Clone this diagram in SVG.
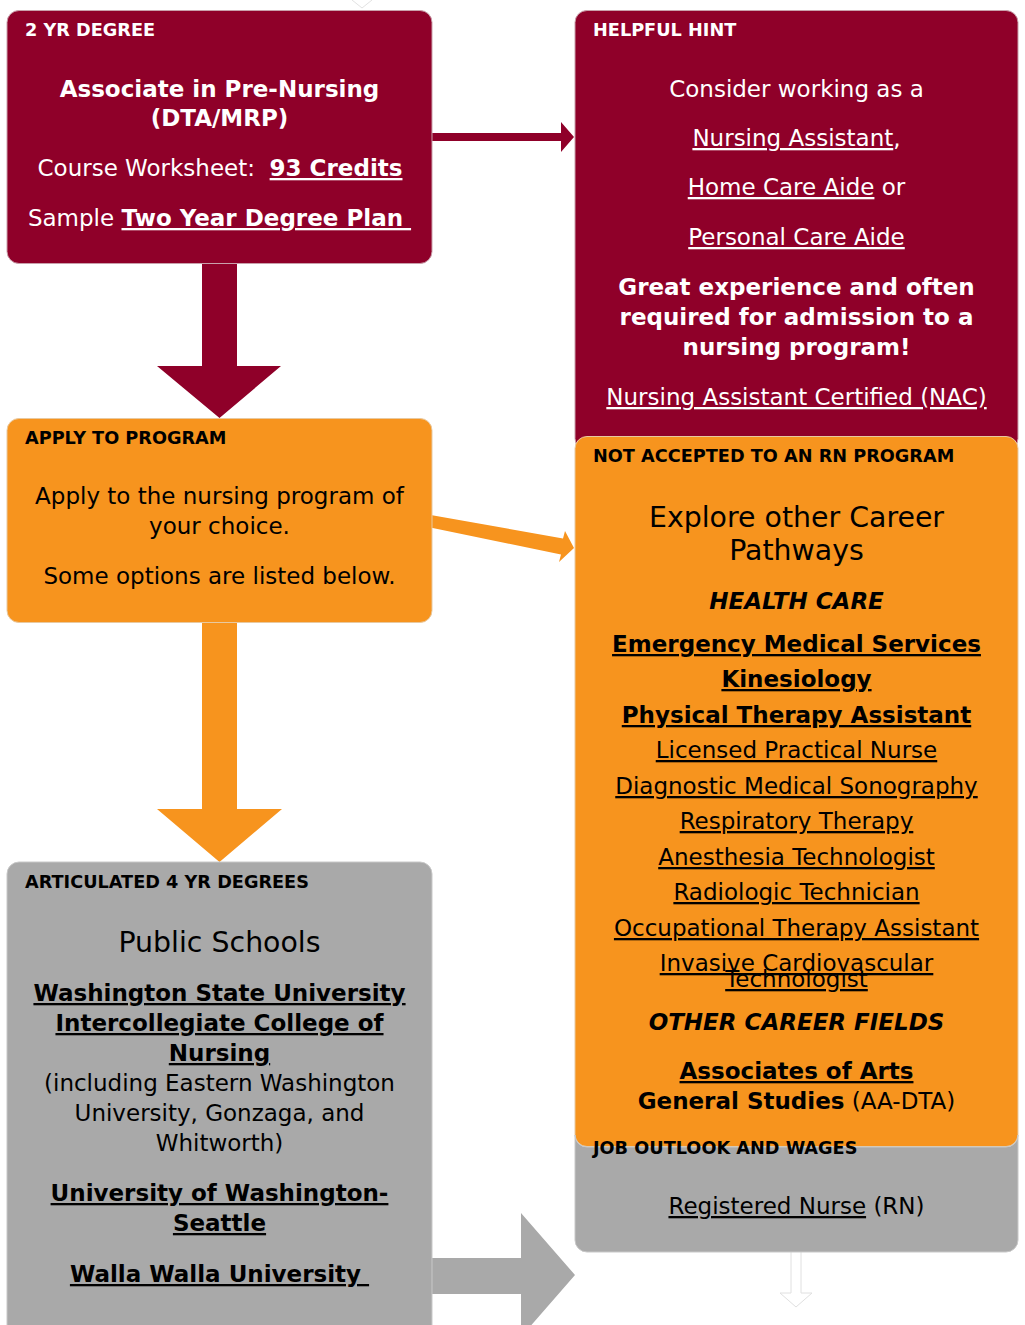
<svg xmlns="http://www.w3.org/2000/svg" width="1025" height="1325" viewBox="0 0 1025 1325">
<style>
text{font-family:"DejaVu Sans","Noto Sans",sans-serif;font-size:23px}
.hd{font-size:17.7px;font-weight:bold}
.c{text-anchor:middle}
.bd{font-weight:bold}
.bi{font-weight:bold;font-style:italic}
.u{text-decoration:underline}
.w{fill:#fff}
.k{fill:#000}
.big{font-size:28.4px}
.maroon{fill:#8f0029;stroke:#c9a0ab;stroke-width:1}
.orange{fill:#f7941e;stroke:#e8c9a0;stroke-width:1}
.gray{fill:#a9a9a9;stroke:#c8c8c8;stroke-width:1}
</style>
<rect width="1025" height="1325" fill="#fff"/>
<g id="connectors">
  <path d="M352,0 L362,8 L372,0" fill="none" stroke="#e2e2e2" stroke-width="1"/>
  <path d="M202,250 H237 V366 H281 L219.5,418 L157,366 H202 Z" fill="#8f0029"/>
  <path d="M425,133 H561 V122 L574,137 L561,152 V141 H425 Z" fill="#8f0029"/>
  <path d="M425,514 L563,538.5 L565,531 L574,548 L559,562 L561,554.5 L423,526 Z" fill="#f7941e"/>
  <path d="M202,610 H237 V809 H282 L219.5,862 L157,809 H202 Z" fill="#f7941e"/>
  <path d="M425,1258 H521 V1213 L575,1275 L521,1337 V1294 H425 Z" fill="#a9a9a9"/>
  <path d="M791,1252 V1293 H780 L796,1307 L812,1293 H801 V1252" fill="#fff" stroke="#e0e0e0" stroke-width="1"/>
</g>
<g id="node-2yr">
  <rect class="maroon" x="7" y="10.5" width="425" height="253" rx="12"/>
  <text class="hd w" x="25" y="36">2 YR DEGREE</text>
  <text class="c w bd" x="219.5" y="97">Associate in Pre-Nursing</text>
  <text class="c w bd" x="219.5" y="126">(DTA/MRP)</text>
  <text class="c w" x="220" y="176" xml:space="preserve">Course Worksheet:  <tspan class="bd u">93 Credits</tspan></text>
  <text class="c w" x="219.5" y="226" xml:space="preserve">Sample <tspan class="bd u">Two Year Degree Plan </tspan></text>
</g>
<g id="node-hint">
  <rect class="maroon" x="575" y="10.5" width="443" height="440" rx="12"/>
  <text class="hd w" x="593" y="36">HELPFUL HINT</text>
  <text class="c w" x="796.5" y="97">Consider working as a</text>
  <text class="c w" x="796.5" y="146"><tspan class="u">Nursing Assistant</tspan>,</text>
  <text class="c w" x="796.5" y="195"><tspan class="u">Home Care Aide</tspan> or</text>
  <text class="c w u" x="796.5" y="245">Personal Care Aide</text>
  <text class="c w bd" x="796.5" y="295">Great experience and often</text>
  <text class="c w bd" x="796.5" y="325">required for admission to a</text>
  <text class="c w bd" x="796.5" y="355">nursing program!</text>
  <text class="c w u" x="796.5" y="405">Nursing Assistant Certified (NAC)</text>
</g>
<g id="node-apply">
  <rect class="orange" x="7" y="418.5" width="425" height="204" rx="12"/>
  <text class="hd k" x="25" y="444">APPLY TO PROGRAM</text>
  <text class="c k" x="219.5" y="504">Apply to the nursing program of</text>
  <text class="c k" x="219.5" y="534">your choice.</text>
  <text class="c k" x="219.5" y="584">Some options are listed below.</text>
</g>
<g id="node-not-accepted">
  <rect class="orange" x="575" y="436.5" width="443" height="710" rx="12"/>
  <text class="hd k" x="593" y="462">NOT ACCEPTED TO AN RN PROGRAM</text>
  <text class="c k big" x="796.5" y="527">Explore other Career</text>
  <text class="c k big" x="796.5" y="560">Pathways</text>
  <text class="c k bi" x="796.5" y="609">HEALTH CARE</text>
  <text class="c k bd u" x="796.5" y="652">Emergency Medical Services</text>
  <text class="c k bd u" x="796.5" y="687">Kinesiology</text>
  <text class="c k bd u" x="796.5" y="723">Physical Therapy Assistant</text>
  <text class="c k u" x="796.5" y="758">Licensed Practical Nurse</text>
  <text class="c k u" x="796.5" y="794">Diagnostic Medical Sonography</text>
  <text class="c k u" x="796.5" y="829">Respiratory Therapy</text>
  <text class="c k u" x="796.5" y="865">Anesthesia Technologist</text>
  <text class="c k u" x="796.5" y="900">Radiologic Technician</text>
  <text class="c k u" x="796.5" y="936">Occupational Therapy Assistant</text>
  <text class="c k u" x="796.5" y="971">Invasive Cardiovascular</text>
  <text class="c k u" x="796.5" y="987">Technologist</text>
  <text class="c k bi" x="796.5" y="1030">OTHER CAREER FIELDS</text>
  <text class="c k bd u" x="796.5" y="1079">Associates of Arts</text>
  <text class="c k" x="796.5" y="1109"><tspan class="bd">General Studies</tspan> (AA-DTA)</text>
</g>
<g id="node-job-outlook">
  <path class="gray" d="M575,1135 A12,12 0 0 0 587,1147 H1006 A12,12 0 0 0 1018,1135 V1240 A12,12 0 0 1 1006,1252 H587 A12,12 0 0 1 575,1240 Z"/>
  <text class="hd k" x="593" y="1154">JOB OUTLOOK AND WAGES</text>
  <text class="c k" x="796.5" y="1214"><tspan class="u">Registered Nurse</tspan> (RN)</text>
</g>
<g id="node-4yr">
  <rect class="gray" x="7" y="862" width="425" height="490" rx="12"/>
  <text class="hd k" x="25" y="888">ARTICULATED 4 YR DEGREES</text>
  <text class="c k big" x="219.5" y="952">Public Schools</text>
  <text class="c k bd u" x="219.5" y="1001">Washington State University</text>
  <text class="c k bd u" x="219.5" y="1031">Intercollegiate College of</text>
  <text class="c k bd u" x="219.5" y="1061">Nursing</text>
  <text class="c k" x="219.5" y="1091">(including Eastern Washington</text>
  <text class="c k" x="219.5" y="1121">University, Gonzaga, and</text>
  <text class="c k" x="219.5" y="1151">Whitworth)</text>
  <text class="c k bd u" x="219.5" y="1201">University of Washington-</text>
  <text class="c k bd u" x="219.5" y="1231">Seattle</text>
  <text class="c k bd u" x="219.5" y="1282" xml:space="preserve">Walla Walla University </text>
</g>
</svg>
